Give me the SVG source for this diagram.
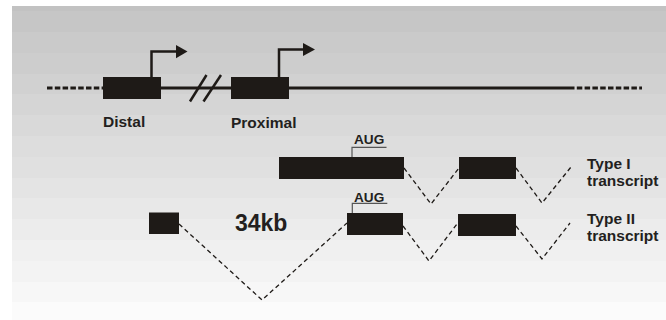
<svg xmlns="http://www.w3.org/2000/svg" width="666" height="320" viewBox="0 0 666 320">
  <defs>
    <linearGradient id="bg" gradientUnits="userSpaceOnUse" x1="0" y1="6" x2="0" y2="320">
      <stop offset="0" stop-color="#c2c2c2"/><stop offset="0.0166" stop-color="#c2c2c2"/>
      <stop offset="0.0166" stop-color="#c6c6c6"/><stop offset="0.0828" stop-color="#c6c6c6"/>
      <stop offset="0.0828" stop-color="#cacaca"/><stop offset="0.149" stop-color="#cacaca"/>
      <stop offset="0.149" stop-color="#cdcdcd"/><stop offset="0.2153" stop-color="#cdcdcd"/>
      <stop offset="0.2153" stop-color="#d1d1d1"/><stop offset="0.2815" stop-color="#d1d1d1"/>
      <stop offset="0.2815" stop-color="#d5d5d5"/><stop offset="0.3478" stop-color="#d5d5d5"/>
      <stop offset="0.3478" stop-color="#d9d9d9"/><stop offset="0.414" stop-color="#d9d9d9"/>
      <stop offset="0.414" stop-color="#dddddd"/><stop offset="0.4803" stop-color="#dddddd"/>
      <stop offset="0.4803" stop-color="#e0e0e0"/><stop offset="0.5465" stop-color="#e0e0e0"/>
      <stop offset="0.5465" stop-color="#e4e4e4"/><stop offset="0.6127" stop-color="#e4e4e4"/>
      <stop offset="0.6127" stop-color="#e8e8e8"/><stop offset="0.679" stop-color="#e8e8e8"/>
      <stop offset="0.679" stop-color="#ececec"/><stop offset="0.7452" stop-color="#ececec"/>
      <stop offset="0.7452" stop-color="#f0f0f0"/><stop offset="0.8115" stop-color="#f0f0f0"/>
      <stop offset="0.8115" stop-color="#f3f3f3"/><stop offset="0.8777" stop-color="#f3f3f3"/>
      <stop offset="0.8777" stop-color="#f7f7f7"/><stop offset="0.9439" stop-color="#f7f7f7"/>
      <stop offset="0.9439" stop-color="#fbfbfb"/><stop offset="1" stop-color="#fbfbfb"/>
    </linearGradient>
    <style>
      .exon { fill: #1e1a17; }
      .gene { stroke: #1e1a17; stroke-width: 3; fill: none; }
      .gdash { stroke: #1e1a17; stroke-width: 3; fill: none; stroke-dasharray: 5.5 2.3; }
      .arrow { stroke: #1e1a17; stroke-width: 2.5; fill: none; }
      .head { fill: #1e1a17; }
      .splice { stroke: #1e1a17; stroke-width: 1.3; fill: none; stroke-dasharray: 4.5 3.2; }
      .aug { stroke: #555555; stroke-width: 1.2; fill: none; }
      .lbl { font-family: "Liberation Sans", Arial, sans-serif; font-weight: bold; fill: #231f20; }
    </style>
  </defs>
  <rect x="12" y="6" width="654" height="314" fill="url(#bg)"/>

  <g id="connectors">
    <line class="gdash" x1="47" y1="88" x2="103" y2="88"/>
    <line class="gene" x1="103" y1="88" x2="569" y2="88"/>
    <line class="gdash" x1="569" y1="88" x2="642" y2="88"/>
    <line class="arrow" x1="190" y1="101.5" x2="206.5" y2="75"/>
    <line class="arrow" x1="203.5" y1="101.5" x2="221" y2="75"/>
    <path class="arrow" d="M151.5 77 V51.5 H177"/>
    <polygon class="head" points="176,45 187.5,51.6 176,58.3"/>
    <path class="arrow" d="M279 77 V49.5 H304"/>
    <polygon class="head" points="303,43 315,49.5 303,56"/>
    <polyline class="splice" points="404,168 431,204 459,168"/>
    <polyline class="splice" points="516,168 542,203 571,167"/>
    <polyline class="splice" points="179,224 262,300 347,223"/>
    <polyline class="splice" points="403,226 429,261 457,224"/>
    <polyline class="splice" points="516,226 542,259 570,223"/>
    <path class="aug" d="M352 157 V147.3 H386.5"/>
    <path class="aug" d="M352.3 213 V203.3 H387.3"/>
  </g>

  <g id="distal">
    <rect class="exon" x="103" y="77" width="58" height="22"/>
    <text class="lbl" x="103" y="127" font-size="15.5">Distal</text>
  </g>
  <g id="proximal">
    <rect class="exon" x="231" y="77" width="58" height="22"/>
    <text class="lbl" x="231" y="128" font-size="15.5">Proximal</text>
  </g>

  <g id="type1">
    <rect class="exon" x="279" y="157" width="125" height="22"/>
    <rect class="exon" x="459" y="157" width="57" height="22"/>
    <text class="lbl" x="354" y="143.7" font-size="13.6">AUG</text>
    <text class="lbl" x="587" y="169" font-size="15.5">Type I</text>
    <text class="lbl" x="587" y="185.5" font-size="15.5">transcript</text>
  </g>

  <g id="type2">
    <rect class="exon" x="149" y="212.5" width="30" height="21.5"/>
    <rect class="exon" x="347" y="213" width="56" height="22"/>
    <rect class="exon" x="458" y="214" width="58" height="22"/>
    <text class="lbl" x="354" y="201.7" font-size="13.6">AUG</text>
    <text class="lbl" x="235" y="231" font-size="23">34kb</text>
    <text class="lbl" x="587" y="223.5" font-size="15.5">Type II</text>
    <text class="lbl" x="587" y="240.5" font-size="15.5">transcript</text>
  </g>
</svg>
